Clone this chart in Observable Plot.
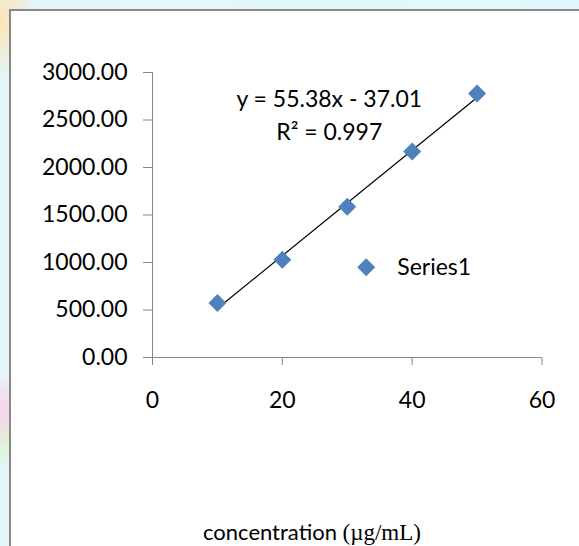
<!DOCTYPE html>
<html>
<head>
<meta charset="utf-8">
<script src="https://cdn.jsdelivr.net/npm/d3@7"></script>
<script src="https://cdn.jsdelivr.net/npm/@observablehq/plot@0.6"></script>
<style>
  html, body { margin: 0; padding: 0; width: 579px; height: 546px; overflow: hidden; }
  body {
    background:
      radial-gradient(ellipse 40px 60px at 0px 20px, rgba(255,225,170,0.9), rgba(255,225,170,0) 100%),
      radial-gradient(ellipse 20px 40px at 3px 410px, rgba(255,200,230,0.8), rgba(255,200,230,0) 100%),
      radial-gradient(ellipse 20px 30px at 8px 440px, rgba(220,245,190,0.8), rgba(220,245,190,0) 100%),
      linear-gradient(90deg, #e4f6fb, #e0f8fd);
    font-family: Lato, sans-serif;
  }
  #frame {
    position: absolute; left: 9px; top: 9px; width: 580px; height: 545px;
    background: #fff; border-left: 2px solid #888; border-top: 2px solid #888;
  }
  #chart { position: absolute; left: 0; top: 0; }
  #xtitle {
    position: absolute; left: 0; top: 510px; width: 602px; text-align: center;
    font-size: 22px; line-height: 22px; color: #000; white-space: nowrap;
  }
  #xtitle .serif { font-family: "Liberation Serif", "DejaVu Serif", serif; font-size: 23px; }
</style>
</head>
<body>
<div id="frame">
  <div id="chart"></div>
  <div id="xtitle">concentration <span class="serif">(µg/mL)</span></div>
</div>
<script>
// Data
const concentration = [10, 20, 30, 40, 50];
const response = [573, 1028, 1586, 2168, 2779];
const yTicks = [0, 500, 1000, 1500, 2000, 2500, 3000];
const xTicks = [0, 20, 40, 60];
const equationLines = ["y = 55.38x - 37.01", "R² = 0.997"];
const seriesName = "Series1";

const points = concentration.map((c, i) => ({x: c, y: response[i]}));

const blue = "#4F81BD";
const axisGray = "#868686";

const plot = Plot.plot({
  width: 568,
  height: 500,
  marginLeft: 141,
  marginTop: 61,
  marginRight: 37.5,
  marginBottom: 154,
  style: {fontFamily: "Lato, sans-serif", fontSize: "23px", background: "transparent", color: "#000", overflow: "visible"},
  x: {domain: [0, 60]},
  y: {domain: [0, 3000]},
  marks: [
    Plot.ruleX([0], {stroke: axisGray, strokeWidth: 1}),
    Plot.ruleY([0], {stroke: axisGray, strokeWidth: 1}),
    Plot.axisY(yTicks, {tickSize: 9, tickPadding: 16, tickFormat: d3.format(".2f"), stroke: axisGray, fill: "#000", label: null}),
    Plot.axisX(xTicks, {tickSize: 8, tickPadding: 26, tickFormat: d3.format("d"), stroke: axisGray, fill: "#000", label: null}),
    Plot.linearRegressionY(points, {x: "x", y: "y", ci: 0, stroke: "#000", strokeWidth: 1.2}),
    Plot.dot(points, {x: "x", y: "y", symbol: "diamond2", r: 8.1, fill: blue, stroke: "none"}),
    Plot.text([equationLines[0]], {x: () => 27.23, y: () => 2716, text: d => d, fill: "#000"}),
    Plot.text([equationLines[1]], {x: () => 27.23, y: () => 2368, text: d => d, fill: "#000"}),
    Plot.dot([seriesName], {x: () => 32.92, y: () => 950, symbol: "diamond2", r: 8.1, fill: blue, stroke: "none"}),
    Plot.text([seriesName], {x: () => 37.7, y: () => 950, text: d => d, textAnchor: "start", fill: "#000"})
  ]
});
document.getElementById("chart").appendChild(plot);
</script>
</body>
</html>
